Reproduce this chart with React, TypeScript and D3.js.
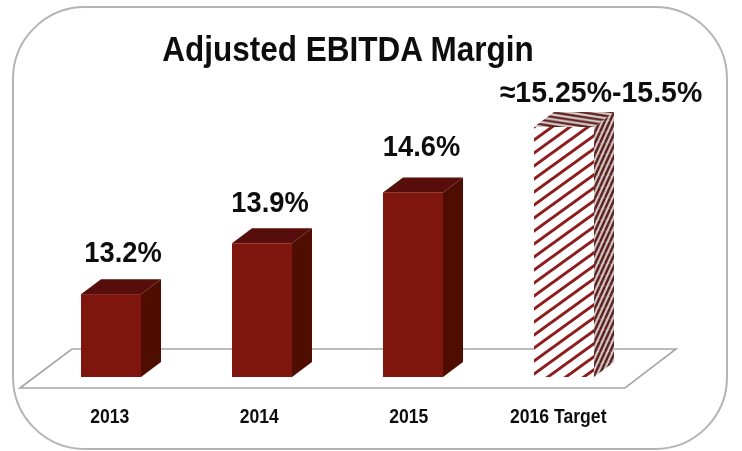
import React from 'react';
import * as d3 from 'd3';

const categories = ['2013', '2014', '2015', '2016 Target'];
const values = [13.2, 13.9, 14.6, 15.5];
const value_labels = ['13.2%', '13.9%', '14.6%', '≈15.25%-15.5%'];
const hatched = [false, false, false, true];

const width = 742;
const height = 451;
const bar_width = 60;
const depth_x = 20;
const depth_y = 15;
const font = '"Liberation Sans", Arial, sans-serif';

// label nudges relative to the bar's front face
const label_dx = [12, 8, 8.5, 37];
const label_dy = [32, 31, 36, 25];
const label_sx = [0.91, 0.91, 0.91, 0.95];

const x = d3.scalePoint<string>().domain(categories).range([111, 564]);
const x_ticks = d3.scaleBand<string>().domain(categories).range([35, 633]);
const y = d3.scaleLinear().domain([12.06, 15.5]).range([377, 127]);

const poly = d3.line();

// the source font is narrower than Liberation, so squeeze it horizontally
function Narrow({ x, y, size, sx, children }: { x: number; y: number; size: number; sx: number; children: React.ReactNode }) {
    return (
        <text transform={`translate(${x},${y}) scale(${sx},1)`} textAnchor="middle" fontSize={size}>
            {children}
        </text>
    );
}

export default function App() {
    const base = y.range()[0];

    return (
        <svg
            width={width}
            height={height}
            viewBox={`0 0 ${width} ${height}`}
            style={{ position: 'absolute', left: 0, top: 0, background: '#fff' }}
        >
            <defs>
                <pattern id="hatch_front" width="18" height="13" patternUnits="userSpaceOnUse" patternTransform="translate(534 127)">
                    <rect width="18" height="13" fill="#fff" />
                    <path d="M-9,6.5 L9,-6.5 M-9,19.5 L27,-6.5 M9,19.5 L27,6.5" stroke="#8e1d1b" strokeWidth="3" />
                </pattern>
                <pattern id="hatch_side" width="5" height="11" patternUnits="userSpaceOnUse">
                    <rect width="5" height="11" fill="#cfc4c0" />
                    <path d="M-5,11 L0,0 M0,11 L5,0 M5,11 L10,0" stroke="#5e2222" strokeWidth="2.4" />
                </pattern>
                <pattern id="hatch_top" width="30" height="4.6" patternUnits="userSpaceOnUse">
                    <rect width="30" height="4.6" fill="#d6cbc8" />
                    <path d="M0,-4.6 L30,0 M0,0 L30,4.6 M0,4.6 L30,9.2" stroke="#5e2222" strokeWidth="2.3" />
                </pattern>
                <filter id="soft" x="-5%" y="-5%" width="110%" height="110%">
                    <feGaussianBlur stdDeviation="0.5" />
                </filter>
            </defs>

            <g filter="url(#soft)">
                <rect x={13} y={7} width={714} height={442} rx={72} ry={72} fill="#fff" stroke="#b4b4b4" strokeWidth={2} />

                <path
                    d={poly([[20, 388], [72, 349], [676, 349], [625, 388]]) + 'Z'}
                    fill="#fff"
                    stroke="#a6a6a6"
                    strokeWidth={1.6}
                />

                {categories.map((c, i) => {
                    const x0 = x(c)! - bar_width / 2;
                    const x1 = x0 + bar_width;
                    const top = y(values[i]);
                    const front = hatched[i] ? 'url(#hatch_front)' : '#7f120c';
                    const side = hatched[i] ? 'url(#hatch_side)' : '#4f0c05';
                    const roof = hatched[i] ? 'url(#hatch_top)' : '#590d07';
                    return (
                        <g key={c}>
                            <path d={poly([[x1, top], [x1 + depth_x, top - depth_y], [x1 + depth_x, base - depth_y], [x1, base]]) + 'Z'} fill={side} />
                            <path d={poly([[x0, top], [x0 + depth_x, top - depth_y], [x1 + depth_x, top - depth_y], [x1, top]]) + 'Z'} fill={roof} />
                            <rect x={x0} y={top} width={bar_width} height={base - top} fill={front} />
                        </g>
                    );
                })}

                <g fontFamily={font} fontWeight="bold" fill="#111">
                    <Narrow x={348} y={60.5} size={35} sx={0.9}>Adjusted EBITDA Margin</Narrow>
                    {categories.map((c, i) => (
                        <Narrow key={c} x={x(c)! + label_dx[i]} y={y(values[i]) - label_dy[i]} size={30} sx={label_sx[i]}>
                            {value_labels[i]}
                        </Narrow>
                    ))}
                    {categories.map((c) => (
                        <Narrow key={c} x={x_ticks(c)! + x_ticks.bandwidth() / 2} y={423} size={20} sx={0.88}>
                            {c}
                        </Narrow>
                    ))}
                </g>
            </g>
        </svg>
    );
}
